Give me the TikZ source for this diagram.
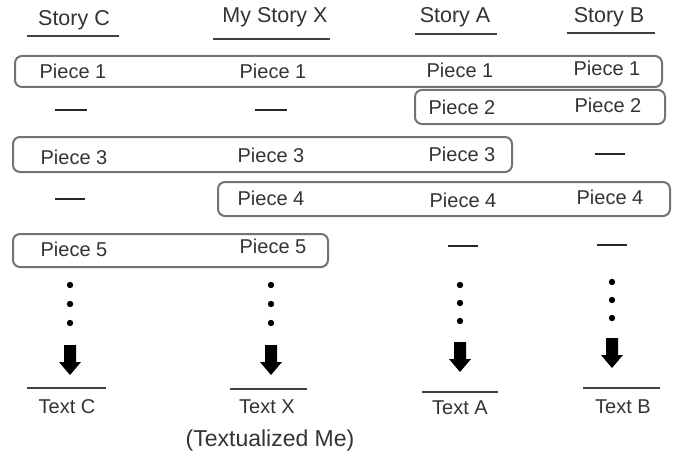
\documentclass[tikz,border=0pt]{standalone}
\usepackage{fontspec}
\setmainfont{Liberation Sans}
\begin{document}
\begin{tikzpicture}[x=1pt,y=-1pt,
  lbl/.style={inner sep=0pt,font=\fontsize{20}{22}\selectfont,text=black!80},
  hdr/.style={lbl,font=\fontsize{21.5}{24}\selectfont},
  grp/.style={draw=black!55,line width=2pt,rounded corners=7pt},
  uline/.style={draw=black!75,line width=1.3pt},
  emptymark/.style={draw=black!85,line width=1.5pt},
  dotc/.style={fill=black,draw=none},
  arr/.style={fill=black,draw=none}]
\useasboundingbox (0,0) rectangle (675,460);
% headers
\node[hdr] (hC) at (74,20) {Story C};
\node[hdr] (hX) at (275,17) {My Story X};
\node[hdr] (hA) at (455,17) {Story A};
\node[hdr] (hB) at (609,17) {Story B};
\draw[uline] (27,36) -- (119,36);
\draw[uline] (213,39) -- (330,39);
\draw[uline] (415,34) -- (497,34);
\draw[uline] (567,33) -- (655,33);
% groups
\draw[grp] (15,56) rectangle (662,87);
\draw[grp] (415,90) rectangle (665,124);
\draw[grp] (13,137) rectangle (512,172);
\draw[grp] (218,182) rectangle (670,216);
\draw[grp] (13,234) rectangle (328,267);
% row 1
\node[lbl] (c1) at (73,71) {Piece 1};
\node[lbl] (x1) at (273,71) {Piece 1};
\node[lbl] (a1) at (460,70) {Piece 1};
\node[lbl] (b1) at (607,68) {Piece 1};
% row 2
\draw[emptymark] (55,110) -- (87,110);
\draw[emptymark] (255,110) -- (287,110);
\node[lbl] (a2) at (462,107) {Piece 2};
\node[lbl] (b2) at (608,105) {Piece 2};
% row 3
\node[lbl] (c3) at (74,157) {Piece 3};
\node[lbl] (x3) at (271,155) {Piece 3};
\node[lbl] (a3) at (462,154) {Piece 3};
\draw[emptymark] (595,154) -- (625,154);
% row 4
\draw[emptymark] (55,199) -- (85,199);
\node[lbl] (x4) at (271,198) {Piece 4};
\node[lbl] (a4) at (463,200) {Piece 4};
\node[lbl] (b4) at (610,197) {Piece 4};
% row 5
\node[lbl] (c5) at (74,249) {Piece 5};
\node[lbl] (x5) at (273,246) {Piece 5};
\draw[emptymark] (448,246) -- (478,246);
\draw[emptymark] (597,245) -- (627,245);
% dots and arrows
\foreach \cx/\t/\d/\ae in {70/285/19/375, 271/285/19/375, 460/285/18/372, 612/282/18/368}{
  \fill[dotc] (\cx,\t) circle (3.2);
  \fill[dotc] (\cx,\t+\d) circle (3.2);
  \fill[dotc] (\cx,\t+2*\d) circle (3.2);
  \fill[arr] (\cx-6,\ae-30) -- (\cx+6,\ae-30) -- (\cx+6,\ae-13) -- (\cx+11,\ae-13) -- (\cx,\ae) -- (\cx-11,\ae-13) -- (\cx-6,\ae-13) -- cycle;
}
% bottom
\draw[uline] (27,388) -- (106,388);
\draw[uline] (230,389) -- (307,389);
\draw[uline] (422,392) -- (498,392);
\draw[uline] (583,388) -- (660,388);
\node[lbl] (tC) at (67,407) {Text C};
\node[lbl] (tX) at (267,407) {Text X};
\node[lbl] (tA) at (460,408) {Text A};
\node[lbl] (tB) at (623,407) {Text B};
\node[lbl,font=\fontsize{23}{25}\selectfont] (me) at (270,441) {(Textualized Me)};
\end{tikzpicture}
\end{document}
